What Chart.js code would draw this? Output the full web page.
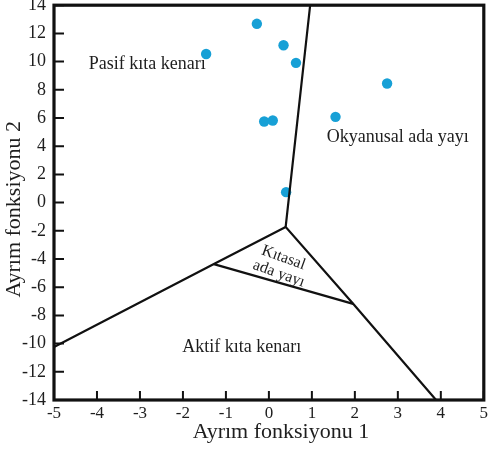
<!DOCTYPE html>
<html lang="tr">
<head>
    <meta charset="UTF-8">
    <title>Ayrım fonksiyonu diyagramı</title>
    <script src="https://cdn.jsdelivr.net/npm/chart.js"></script>
    <style>
        body {
            margin: 0;
            background: #fff;
        }
        #wrap {
            width: 489px;
            height: 450px;
        }
    </style>
</head>
<body>
    <div id="wrap"><canvas id="chart"></canvas></div>

    <script>
        // Samples (discriminant function 1 / 2)
        var sampleX = [-1.46, -0.28, 0.34, 0.63, 2.75, 1.55, -0.11, 0.09, 0.40];
        var sampleY = [10.54, 12.68, 11.16, 9.91, 8.45, 6.08, 5.75, 5.82, 0.74];

        // Field boundaries
        var topLineX = [0.96, 0.39, 1.96, 3.89];
        var topLineY = [14, -1.73, -7.18, -14];
        var leftLineX = [0.39, -1.28, -5];
        var leftLineY = [-1.73, -4.36, -10.24];
        var innerLineX = [-1.28, 1.96];
        var innerLineY = [-4.36, -7.18];

        // Field names
        var fieldNames = ['Pasif kıta kenarı', 'Okyanusal ada yayı', 'Aktif kıta kenarı', 'Kıtasal', 'ada yayı'];
        var fieldX = [-2.83, 3.0, -0.63, 0.34, 0.23];
        var fieldY = [9.84, 4.62, -10.26, -3.91, -5.04];

        var xTicks = [-5, -4, -3, -2, -1, 0, 1, 2, 3, 4, 5];
        var yTicks = [-14, -12, -10, -8, -6, -4, -2, 0, 2, 4, 6, 8, 10, 12, 14];

        var xTitle = 'Ayrım fonksiyonu 1';
        var yTitle = 'Ayrım fonksiyonu 2';

        var serif = "'Liberation Serif', 'Times New Roman', serif";
        var ink = '#1e1e1e';

        function toPoints(xs, ys) {
            return xs.map(function (x, i) { return { x: x, y: ys[i] }; });
        }

        function boundary(xs, ys) {
            return {
                type: 'line',
                data: toPoints(xs, ys),
                borderColor: '#111',
                borderWidth: 2.2,
                pointRadius: 0,
                fill: false,
                tension: 0
            };
        }

        // frame, inward ticks, field names and axis titles
        var decor = {
            id: 'decor',
            afterDatasetsDraw: function (chart) {
                var ctx = chart.ctx;
                var a = chart.chartArea;
                var xs = chart.scales.x;
                var ys = chart.scales.y;
                ctx.save();
                ctx.strokeStyle = '#111';
                ctx.lineWidth = 2;
                ctx.beginPath();
                xTicks.forEach(function (v) {
                    var px = xs.getPixelForValue(v);
                    ctx.moveTo(px, a.bottom);
                    ctx.lineTo(px, a.bottom - 9);
                });
                yTicks.forEach(function (v) {
                    var py = ys.getPixelForValue(v);
                    ctx.moveTo(a.left, py);
                    ctx.lineTo(a.left + 10, py);
                });
                ctx.stroke();

                ctx.lineWidth = 3.2;
                ctx.strokeRect(a.left, a.top, a.right - a.left, a.bottom - a.top);

                ctx.fillStyle = ink;
                ctx.textAlign = 'center';
                ctx.textBaseline = 'middle';
                fieldNames.forEach(function (name, i) {
                    var px = xs.getPixelForValue(fieldX[i]);
                    var py = ys.getPixelForValue(fieldY[i]);
                    ctx.save();
                    ctx.translate(px, py);
                    if (i >= 3) {
                        ctx.rotate(20 * Math.PI / 180);
                        ctx.font = '16px ' + serif;
                    } else {
                        ctx.font = '18px ' + serif;
                    }
                    ctx.fillText(name, 0, 0);
                    ctx.restore();
                });

                ctx.font = '22px ' + serif;
                ctx.fillText(xTitle, a.left + 227, a.bottom + 32);
                ctx.save();
                ctx.translate(14, a.top + 204);
                ctx.rotate(-Math.PI / 2);
                ctx.fillText(yTitle, 0, 0);
                ctx.restore();
                ctx.restore();
            }
        };

        new Chart(document.getElementById('chart'), {
            type: 'scatter',
            data: {
                datasets: [
                    boundary(topLineX, topLineY),
                    boundary(leftLineX, leftLineY),
                    boundary(innerLineX, innerLineY),
                    {
                        type: 'scatter',
                        data: toPoints(sampleX, sampleY),
                        backgroundColor: '#17a0d6',
                        borderColor: '#17a0d6',
                        borderWidth: 0,
                        pointRadius: 5.2
                    }
                ]
            },
            options: {
                responsive: true,
                maintainAspectRatio: false,
                animation: false,
                events: [],
                layout: { padding: { top: 3, right: 2.5, left: 0, bottom: 0 } },
                plugins: {
                    legend: { display: false },
                    tooltip: { enabled: false }
                },
                scales: {
                    x: {
                        type: 'linear',
                        min: -5,
                        max: 5,
                        afterBuildTicks: function (s) { s.ticks = xTicks.map(function (v) { return { value: v }; }); },
                        afterFit: function (s) {
                            s.height = 50;
                            s.paddingLeft = 0;
                            s.paddingRight = 0;
                        },
                        grid: { display: false, drawTicks: false },
                        border: { display: false },
                        ticks: {
                            color: ink,
                            padding: 3,
                            maxRotation: 0,
                            font: { family: serif, size: 17 }
                        }
                    },
                    y: {
                        type: 'linear',
                        min: -14,
                        max: 14,
                        afterBuildTicks: function (s) { s.ticks = yTicks.map(function (v) { return { value: v }; }); },
                        afterFit: function (s) {
                            s.width = 54;
                            s.paddingTop = 0;
                            s.paddingBottom = 0;
                        },
                        grid: { display: false, drawTicks: false },
                        border: { display: false },
                        ticks: {
                            color: ink,
                            padding: 8,
                            font: { family: serif, size: 18 }
                        }
                    }
                }
            },
            plugins: [decor]
        });
    </script>
</body>
</html>
